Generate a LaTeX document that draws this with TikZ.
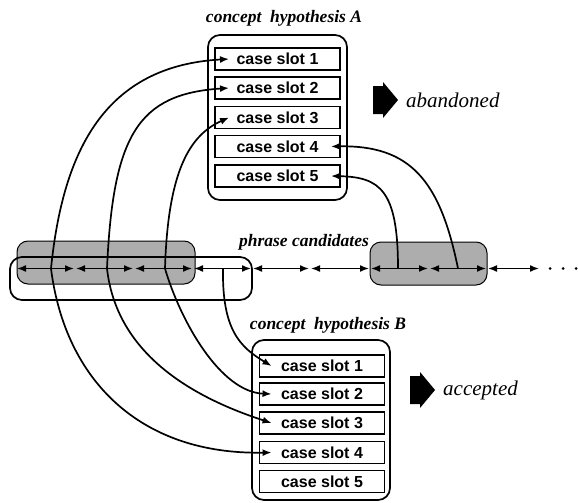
\documentclass[tikz,border=0pt]{standalone}
\usepackage{fontspec}
\setmainfont{Liberation Serif}
\setsansfont{Liberation Sans}
\usetikzlibrary{arrows.meta}
\begin{document}
\begin{tikzpicture}[x=1pt,y=-1pt,
  slot/.style={draw,line width=1.9pt,minimum width=125pt,minimum height=22pt,inner sep=0pt,font=\sffamily\bfseries\fontsize{16}{16}\selectfont},
  hypbox/.style={draw,line width=1.7pt,rounded corners=12pt,inner sep=0pt},
  title/.style={font=\bfseries\itshape\fontsize{17.5}{18}\selectfont,inner sep=0pt},
  verdict/.style={font=\itshape\fontsize{21}{22}\selectfont,anchor=west,inner sep=0pt},
  link/.style={line width=1.7pt,-{Latex[length=9pt,width=7pt]}},
  seg/.style={line width=1.6pt,{Latex[length=9pt,width=7pt]}-{Latex[length=9pt,width=7pt]},shorten <=1pt,shorten >=1pt},
  shade/.style={fill=black!32,draw,line width=1pt,rounded corners=11pt,inner sep=0pt},
  group/.style={draw,line width=1.7pt,rounded corners=12pt,inner sep=0pt}
]
\useasboundingbox (0,0) rectangle (578,503);

% shaded candidate groups
\node[shade,minimum width=178pt,minimum height=43pt] (gA) at (106,262.5) {};
\node[shade,minimum width=117pt,minimum height=43pt] (gA2) at (428.5,263.5) {};
% outline group for B
\node[group,minimum width=242pt,minimum height=43pt] (gB) at (131,278.5) {};

% phrase line break points
\foreach \i/\x in {0/16,1/75,2/134,3/193,4/252,5/310,6/370,7/429,8/487,9/540}
  \coordinate (b\i) at (\x,268.5);
\foreach \i/\j in {0/1,1/2,2/3,3/4,4/5,5/6,6/7,7/8,8/9}
  \draw[seg] (b\i) -- (b\j);
\fill (550,268.5) circle (1.5);
\fill (563,268.5) circle (1.5);
\fill (576,268.5) circle (1.5);

\node[font=\bfseries\itshape\fontsize{17.5}{18}\selectfont,inner sep=0pt] (pc) at (304,242) {phrase candidates};

% hypothesis A
\node[title] (tA) at (284,18) {concept\ \ hypothesis A};
\node[hypbox,minimum width=139pt,minimum height=165pt] (hA) at (277.5,117.5) {};
\node[slot] (a1) at (277.5,59) {case slot 1};
\node[slot] (a2) at (277.5,88) {case slot 2};
\node[slot] (a3) at (277.5,117.5) {case slot 3};
\node[slot] (a4) at (277.5,146.5) {case slot 4};
\node[slot] (a5) at (277.5,176) {case slot 5};

% hypothesis B
\node[title] (tB) at (328,325) {concept\ \ hypothesis B};
\node[hypbox,minimum width=138pt,minimum height=160pt] (hB) at (321,420) {};
\node[slot] (c1) at (322,366) {case slot 1};
\node[slot] (c2) at (322,394) {case slot 2};
\node[slot] (c3) at (322,423) {case slot 3};
\node[slot] (c4) at (322,452.5) {case slot 4};
\node[slot] (c5) at (322,481.5) {case slot 5};

% verdict arrows
\fill (373,86) -- (383,86) -- (383,82) -- (398,100) -- (383,118) -- (383,114) -- (373,114) -- cycle;
\node[verdict] (ab) at (406,100) {abandoned};
\fill (410,376) -- (420,376) -- (420,372) -- (435,390) -- (420,408) -- (420,404) -- (410,404) -- cycle;
\node[verdict] (ac) at (443,390) {accepted};

% link points on the phrase line
\coordinate (m1) at (51,268.5);
\coordinate (m2) at (107,268.5);
\coordinate (m3) at (165,268.5);
\coordinate (m4) at (223,268.5);
\coordinate (m5) at (398,268.5);
\coordinate (m6) at (458,268.5);

% links to A
\draw[link] (m1) .. controls (63,150) and (105,66) .. ([xshift=15pt]a1.west);
\draw[link] (m2) .. controls (113,135) and (138,94) .. ([xshift=15pt]a2.west);
\draw[link] (m3) .. controls (168,170) and (190,135) .. ([xshift=15pt]a3.west);
\draw[link] (m6) .. controls (440,180) and (410,145) .. ([xshift=-10pt]a4.east);
\draw[link] (m5) .. controls (398,190) and (380,177) .. ([xshift=-10pt]a5.east);

% links to B
\draw[link] (m1) .. controls (65,380) and (140,455) .. ([xshift=13pt]c4.west);
\draw[link] (m2) .. controls (115,340) and (170,390) .. ([xshift=13pt]c3.west);
\draw[link] (m3) .. controls (180,320) and (220,392) .. ([xshift=13pt]c2.west);
\draw[link] (m4) .. controls (222,330) and (240,347) .. ([xshift=13pt]c1.west);
\end{tikzpicture}
\end{document}
